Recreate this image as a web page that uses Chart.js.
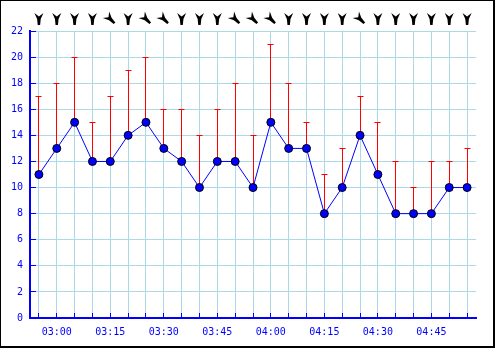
<!DOCTYPE html>
<html>
<head>
<meta charset="utf-8">
<script src="https://cdn.jsdelivr.net/npm/chart.js@4"></script>
<style>
    html, body {
        margin: 0;
        padding: 0;
        background: #ffffff;
    }

    #frame {
        width: 495px;
        height: 348px;
        box-sizing: border-box;
        border-style: solid;
        border-color: #000000;
        border-width: 1px 2px 2px 1px;
    }

    canvas {
        display: block;
    }
</style>
</head>
<body>

<div id="frame">
    <canvas id="windChart" width="492" height="345"></canvas>
</div>

<script>

const times = [
    "02:55", "03:00", "03:05", "03:10", "03:15",
    "03:20", "03:25", "03:30", "03:35", "03:40",
    "03:45", "03:50", "03:55", "04:00", "04:05",
    "04:10", "04:15", "04:20", "04:25", "04:30",
    "04:35", "04:40", "04:45", "04:50", "04:55"
];

const shownTimes = [
    "03:00", "03:15", "03:30", "03:45",
    "04:00", "04:15", "04:30", "04:45"
];

// mean wind speed
const speed = [
    11, 13, 15, 12, 12, 14, 15, 13, 12, 10, 12, 12, 10,
    15, 13, 13, 8, 10, 14, 11, 8, 8, 8, 10, 10
];

// gusts
const gust = [
    17, 18, 20, 15, 17, 19, 20, 16, 16, 14, 16, 18, 14,
    21, 18, 15, 11, 13, 17, 15, 12, 10, 12, 12, 13
];

// wind direction (degrees, where the wind comes from)
const direction = [
    0, 0, 0, 0, 315, 0, 315, 315, 0, 0, 0, 315, 315,
    315, 0, 0, 0, 0, 315, 0, 0, 0, 0, 0, 0
];

const yTicks = [0, 2, 4, 6, 8, 10, 12, 14, 16, 18, 20, 22];

const BLUE = "#0000ff";
const GRID = "#add8e6";

// same rounding chart.js uses for its 1px grid lines
const snap = p => Math.round(p - 0.5) + 0.5;


// small blue tick marks inside the plot + red gust whiskers
const extrasPlugin = {

    id: "extras",

    beforeDatasetsDraw(chart) {

        const ctx = chart.ctx;
        const x = chart.scales.x;
        const y = chart.scales.y;
        const area = chart.chartArea;

        ctx.save();
        ctx.lineWidth = 1;

        ctx.strokeStyle = BLUE;
        ctx.beginPath();

        times.forEach((t, i) => {
            const px = snap(x.getPixelForValue(i));
            ctx.moveTo(px, area.bottom);
            ctx.lineTo(px, area.bottom - 5);
        });

        yTicks.forEach(v => {
            const py = snap(y.getPixelForValue(v));
            ctx.moveTo(area.left, py);
            ctx.lineTo(area.left + 6, py);
        });

        ctx.stroke();

        ctx.strokeStyle = "#ff0000";
        ctx.beginPath();

        gust.forEach((g, i) => {
            const px = snap(x.getPixelForValue(i));
            const top = snap(y.getPixelForValue(g));
            const low = y.getPixelForValue(speed[i]);
            ctx.moveTo(px, low);
            ctx.lineTo(px, top);
            ctx.moveTo(px - 3, top);
            ctx.lineTo(px + 3, top);
        });

        ctx.stroke();
        ctx.restore();
    },

    afterDraw(chart) {

        const ctx = chart.ctx;
        const x = chart.scales.x;

        ctx.save();
        ctx.fillStyle = "#000000";

        direction.forEach((d, i) => {

            ctx.save();
            ctx.translate(x.getPixelForValue(i), 18);
            ctx.rotate(d * Math.PI / 180);

            ctx.beginPath();
            ctx.moveTo(-4.5, -6);
            ctx.lineTo(0, -2.5);
            ctx.lineTo(4.5, -6);
            ctx.lineTo(1.8, 0);
            ctx.lineTo(1.2, 6);
            ctx.lineTo(-1.2, 6);
            ctx.lineTo(-1.8, 0);
            ctx.closePath();
            ctx.fill();

            ctx.restore();
        });

        ctx.restore();
    }
};


new Chart(

    document.getElementById("windChart"),

    {
        type: "line",

        data: {
            labels: times,
            datasets: [
                {
                    data: speed,
                    borderColor: BLUE,
                    borderWidth: 1,
                    pointBackgroundColor: BLUE,
                    pointBorderColor: "#000000",
                    pointBorderWidth: 1,
                    pointRadius: 4,
                    tension: 0
                }
            ]
        },

        options: {
            responsive: false,
            animation: false,
            layout: {
                padding: { top: 30, right: 17, left: 0, bottom: 0 }
            },
            plugins: {
                legend: { display: false },
                tooltip: { enabled: false }
            },
            scales: {
                x: {
                    offset: true,
                    afterFit(scale) { scale.height = 28; },
                    grid: {
                        color: GRID,
                        lineWidth: 1,
                        drawTicks: false,
                        offset: false
                    },
                    border: { color: BLUE, width: 2 },
                    ticks: {
                        autoSkip: false,
                        maxRotation: 0,
                        padding: 8,
                        color: BLUE,
                        font: { family: "DejaVu Sans Mono", size: 10 },
                        callback: (value, index) =>
                            shownTimes.includes(times[index]) ? times[index] : ""
                    }
                },
                y: {
                    min: 0,
                    max: 22,
                    afterFit(scale) { scale.width = 29; },
                    grid: {
                        color: GRID,
                        lineWidth: 1,
                        drawTicks: false
                    },
                    border: { color: BLUE, width: 2 },
                    afterBuildTicks(scale) {
                        scale.ticks = yTicks.map(v => ({ value: v }));
                    },
                    ticks: {
                        padding: 7,
                        color: BLUE,
                        font: { family: "DejaVu Sans Mono", size: 10 }
                    }
                }
            }
        },

        plugins: [extrasPlugin]
    }
);

</script>
</body>
</html>
